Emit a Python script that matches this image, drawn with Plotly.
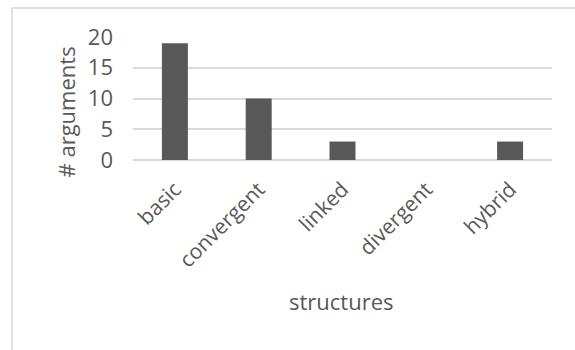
import plotly.graph_objects as go

categories = ["basic", "convergent", "linked", "divergent", "hybrid"]
values = [19, 10, 3, 0, 3]
y_ticks = [0, 5, 10, 15, 20]
x_title = "structures"
y_title = "# arguments"

W, H = 575, 350
L, R, T, B = 133, 23, 37, 190
pw, ph = W - L - R, H - T - B

def px(x):
    return (x - L) / pw

def py(y):
    return (H - B - y) / ph

FONT = "Open Sans"
GRAY = "#595959"

fig = go.Figure(go.Bar(x=categories, y=values, marker=dict(color=GRAY, line=dict(width=0))))

fig.update_layout(
    width=W, height=H,
    margin=dict(l=L, r=R, t=T, b=B, pad=0),
    paper_bgcolor="white", plot_bgcolor="white",
    bargap=0.69,
    showlegend=False,
    font=dict(family=FONT, color=GRAY, size=20),
    xaxis=dict(
        tickangle=-45, tickfont=dict(size=21, color=GRAY, family=FONT),
        showgrid=False, showline=False, ticks="", zeroline=False,
        ticklabelstandoff=12, automargin=False,
    ),
    yaxis=dict(
        range=[0, 20], tickvals=y_ticks, showgrid=True, gridcolor="#d9d9d9", gridwidth=1.5,
        zeroline=True, zerolinecolor="#d9d9d9", zerolinewidth=1.5,
        tickfont=dict(size=22, color=GRAY, family=FONT), ticks="",
        ticklabelstandoff=19, automargin=False,
    ),
    shapes=[dict(type="rect", xref="paper", yref="paper",
                 x0=px(12), x1=px(590), y0=py(360), y1=py(8),
                 line=dict(color="#d9d9d9", width=1.5), fillcolor="rgba(0,0,0,0)", layer="below")],
    annotations=[
        dict(text=y_title, xref="paper", yref="paper", x=px(65), y=py(112.5),
             textangle=-90, showarrow=False, xanchor="center", yanchor="middle",
             font=dict(size=22, color=GRAY, family=FONT)),
        dict(text=x_title, xref="paper", yref="paper", x=px(341), y=py(301),
             showarrow=False, xanchor="center", yanchor="middle",
             font=dict(size=22, color=GRAY, family=FONT)),
    ],
)

fig.write_html("out.html")
